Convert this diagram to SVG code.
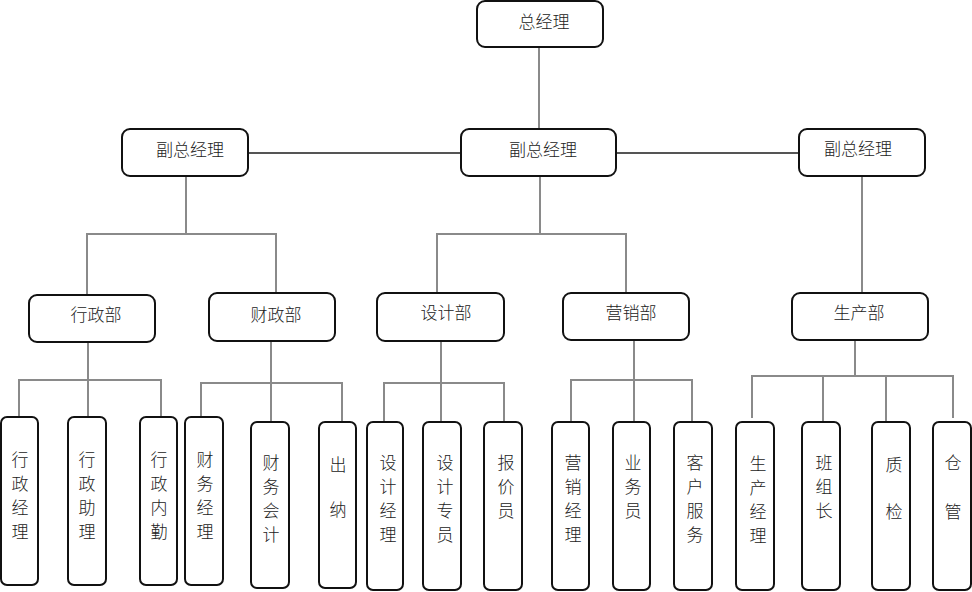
<svg xmlns="http://www.w3.org/2000/svg" width="972" height="592" viewBox="0 0 972 592">
<style>
.box{fill:#fff;stroke:#111;stroke-width:2}
.t{font-family:"Noto Sans CJK SC","Noto Sans CJK JP",sans-serif;font-size:17px;fill:#222;text-anchor:middle;font-weight:300}
.c{fill:none;stroke:#8a8a8a;stroke-width:2}
.d{fill:none;stroke:#555;stroke-width:2}
</style>
<rect width="972" height="592" fill="#fff"/>
<g id="connectors">
<path class="c" d="M539 47V129"/>
<path class="d" d="M248 153H461M616 153H799"/>
<path class="c" d="M186 176V234M87 295V234H276V293"/>
<path class="c" d="M540 176V234M437 293V234H626V293"/>
<path class="c" d="M862 176V293"/>
<path class="c" d="M88 342V380M19 417V380H161V417M88 380V417"/>
<path class="c" d="M271 341V383M201 417V383H342V422M271 383V422"/>
<path class="c" d="M441 341V383M384 422V383H504V422M441 383V422"/>
<path class="c" d="M634 340V380M571 422V380H692V422M634 380V422"/>
<path class="c" d="M855 340V376M752 418V376H953V418M823 376V422M886 376V422"/>
</g>
<g id="n-ceo"><rect class="box" x="477" y="1" width="126" height="46" rx="8"/><text class="t" x="544" y="28">总经理</text></g>
<g id="n-vp1"><rect class="box" x="122" y="129" width="126" height="47" rx="8"/><text class="t" x="190" y="156">副总经理</text></g>
<g id="n-vp2"><rect class="box" x="461" y="129" width="155" height="47" rx="8"/><text class="t" x="543" y="156">副总经理</text></g>
<g id="n-vp3"><rect class="box" x="799" y="129" width="126" height="47" rx="8"/><text class="t" x="858" y="155">副总经理</text></g>
<g id="n-xz"><rect class="box" x="29" y="295" width="126" height="47" rx="8"/><text class="t" x="96" y="321">行政部</text></g>
<g id="n-cz"><rect class="box" x="209" y="293" width="126" height="48" rx="8"/><text class="t" x="276" y="321">财政部</text></g>
<g id="n-sj"><rect class="box" x="377" y="293" width="127" height="48" rx="8"/><text class="t" x="446" y="319">设计部</text></g>
<g id="n-yx"><rect class="box" x="563" y="293" width="126" height="47" rx="8"/><text class="t" x="631" y="319">营销部</text></g>
<g id="n-sc"><rect class="box" x="792" y="293" width="136" height="47" rx="8"/><text class="t" x="859" y="319">生产部</text></g>
<g id="n-xzjl"><rect class="box" x="1" y="417" width="37" height="168" rx="6"/><text class="t"><tspan x="20" y="466">行</tspan><tspan x="20" y="490">政</tspan><tspan x="20" y="514">经</tspan><tspan x="20" y="538">理</tspan></text></g>
<g id="n-xzzl"><rect class="box" x="68" y="417" width="38" height="168" rx="6"/><text class="t"><tspan x="87" y="466">行</tspan><tspan x="87" y="490">政</tspan><tspan x="87" y="514">助</tspan><tspan x="87" y="538">理</tspan></text></g>
<g id="n-xznq"><rect class="box" x="140" y="417" width="37" height="168" rx="6"/><text class="t"><tspan x="159" y="466">行</tspan><tspan x="159" y="490">政</tspan><tspan x="159" y="514">内</tspan><tspan x="159" y="538">勤</tspan></text></g>
<g id="n-cwjl"><rect class="box" x="185" y="417" width="38" height="168" rx="6"/><text class="t"><tspan x="205" y="466">财</tspan><tspan x="205" y="490">务</tspan><tspan x="205" y="514">经</tspan><tspan x="205" y="538">理</tspan></text></g>
<g id="n-cwkj"><rect class="box" x="251" y="422" width="38" height="166" rx="6"/><text class="t"><tspan x="271" y="469">财</tspan><tspan x="271" y="493">务</tspan><tspan x="271" y="517">会</tspan><tspan x="271" y="541">计</tspan></text></g>
<g id="n-cn"><rect class="box" x="319" y="422" width="37" height="166" rx="6"/><text class="t"><tspan x="338" y="471">出</tspan><tspan x="338" y="516">纳</tspan></text></g>
<g id="n-sjjl"><rect class="box" x="367" y="422" width="36" height="168" rx="6"/><text class="t"><tspan x="388" y="469">设</tspan><tspan x="388" y="493">计</tspan><tspan x="388" y="517">经</tspan><tspan x="388" y="541">理</tspan></text></g>
<g id="n-sjzy"><rect class="box" x="423" y="422" width="38" height="168" rx="6"/><text class="t"><tspan x="445" y="469">设</tspan><tspan x="445" y="493">计</tspan><tspan x="445" y="517">专</tspan><tspan x="445" y="541">员</tspan></text></g>
<g id="n-bjy"><rect class="box" x="484" y="422" width="38" height="168" rx="6"/><text class="t"><tspan x="506" y="469">报</tspan><tspan x="506" y="493">价</tspan><tspan x="506" y="517">员</tspan></text></g>
<g id="n-yxjl"><rect class="box" x="552" y="422" width="37" height="168" rx="6"/><text class="t"><tspan x="573" y="469">营</tspan><tspan x="573" y="493">销</tspan><tspan x="573" y="517">经</tspan><tspan x="573" y="541">理</tspan></text></g>
<g id="n-ywy"><rect class="box" x="613" y="422" width="37" height="168" rx="6"/><text class="t"><tspan x="633" y="469">业</tspan><tspan x="633" y="493">务</tspan><tspan x="633" y="517">员</tspan></text></g>
<g id="n-khfw"><rect class="box" x="674" y="422" width="38" height="168" rx="6"/><text class="t"><tspan x="695" y="469">客</tspan><tspan x="695" y="493">户</tspan><tspan x="695" y="517">服</tspan><tspan x="695" y="541">务</tspan></text></g>
<g id="n-scjl"><rect class="box" x="736" y="422" width="38" height="168" rx="6"/><text class="t"><tspan x="758" y="470">生</tspan><tspan x="758" y="494">产</tspan><tspan x="758" y="518">经</tspan><tspan x="758" y="542">理</tspan></text></g>
<g id="n-bzz"><rect class="box" x="802" y="422" width="38" height="168" rx="6"/><text class="t"><tspan x="824" y="469">班</tspan><tspan x="824" y="493">组</tspan><tspan x="824" y="517">长</tspan></text></g>
<g id="n-zj"><rect class="box" x="872" y="422" width="38" height="168" rx="6"/><text class="t"><tspan x="894" y="471">质</tspan><tspan x="894" y="518">检</tspan></text></g>
<g id="n-cg"><rect class="box" x="933" y="422" width="38" height="168" rx="6"/><text class="t"><tspan x="953" y="469">仓</tspan><tspan x="953" y="518">管</tspan></text></g>
</svg>
